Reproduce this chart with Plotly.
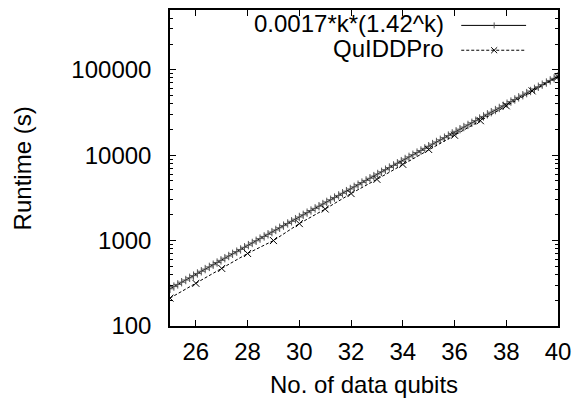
import plotly.graph_objects as go

# ---- data ----
# fitted curve 0.0017*k*(1.42^k), sampled as in the reference (100 samples)
fit_k = [25.00, 25.15, 25.30, 25.45, 25.61, 25.76, 25.91, 26.06, 26.21, 26.36,
         26.52, 26.67, 26.82, 26.97, 27.12, 27.27, 27.42, 27.58, 27.73, 27.88,
         28.03, 28.18, 28.33, 28.48, 28.64, 28.79, 28.94, 29.09, 29.24, 29.39,
         29.55, 29.70, 29.85, 30.00, 30.15, 30.30, 30.45, 30.61, 30.76, 30.91,
         31.06, 31.21, 31.36, 31.52, 31.67, 31.82, 31.97, 32.12, 32.27, 32.42,
         32.58, 32.73, 32.88, 33.03, 33.18, 33.33, 33.48, 33.64, 33.79, 33.94,
         34.09, 34.24, 34.39, 34.55, 34.70, 34.85, 35.00, 35.15, 35.30, 35.45,
         35.61, 35.76, 35.91, 36.06, 36.21, 36.36, 36.52, 36.67, 36.82, 36.97,
         37.12, 37.27, 37.42, 37.58, 37.73, 37.88, 38.03, 38.18, 38.33, 38.48,
         38.64, 38.79, 38.94, 39.09, 39.24, 39.39, 39.55, 39.70, 39.85, 40.00]
fit_runtime = [272.6, 289.3, 306.9, 325.6, 345.4, 366.4, 388.6, 412.2, 437.3, 463.8,
               491.9, 521.7, 553.3, 586.8, 622.3, 659.9, 699.8, 742.1, 786.9, 834.3,
               884.6, 938.0, 994.5, 1054.0, 1118.0, 1185.0, 1256.0, 1332.0, 1412.0, 1496.0,
               1586.0, 1681.0, 1782.0, 1889.0, 2002.0, 2122.0, 2249.0, 2383.0, 2526.0, 2677.0,
               2837.0, 3006.0, 3186.0, 3376.0, 3577.0, 3790.0, 4016.0, 4255.0, 4509.0, 4777.0,
               5061.0, 5362.0, 5681.0, 6019.0, 6376.0, 6755.0, 7156.0, 7580.0, 8030.0, 8506.0,
               9010.0, 9544.0, 10110.0, 10710.0, 11340.0, 12010.0, 12720.0, 13480.0, 14270.0, 15120.0,
               16010.0, 16950.0, 17960.0, 19010.0, 20140.0, 21320.0, 22580.0, 23910.0, 25320.0, 26810.0,
               28390.0, 30060.0, 31830.0, 33710.0, 35690.0, 37790.0, 40010.0, 42360.0, 44850.0, 47480.0,
               50270.0, 53220.0, 56340.0, 59650.0, 63150.0, 66850.0, 70770.0, 74920.0, 79310.0, 83950.0]

quiddpro_k = [25, 26, 27, 28, 29, 30, 31, 32, 33, 34, 35, 36, 37, 38, 39, 40]
quiddpro_runtime = [212, 316, 472, 706, 1000, 1580, 2340, 3550, 5210, 7800,
                    11650, 17100, 25300, 37800, 56500, 83000]

x_ticks = [26, 28, 30, 32, 34, 36, 38, 40]
y_ticks = [100, 1000, 10000, 100000]
y_tick_labels = ["100", "1000", "10000", "100000"]
legend_labels = ["0.0017*k*(1.42^k)", "QuIDDPro"]

FONT = "Liberation Sans, Arial, Helvetica, sans-serif"
W, H = 579, 398
L, R, T, B = 170, 20, 8, 72
PW, PH = W - L - R, H - T - B

def px(x):
    return (x - L) / PW

def py(y):
    return (H - B - y) / PH

fig = go.Figure()
fig.add_trace(go.Scatter(
    x=fit_k, y=fit_runtime, mode="lines+markers",
    line=dict(color="black", width=1),
    marker=dict(symbol="cross-thin", size=6, line=dict(color="#555", width=1)),
    showlegend=False, hoverinfo="skip"))
fig.add_trace(go.Scatter(
    x=quiddpro_k, y=quiddpro_runtime, mode="lines+markers",
    line=dict(color="black", width=1, dash="3px,2px"),
    marker=dict(symbol="x-thin", size=7, line=dict(color="black", width=1)),
    showlegend=False, hoverinfo="skip"))

minor_vals = [m * 10 ** e for e in range(2, 6) for m in range(2, 10)]

fig.update_layout(
    width=W, height=H, margin=dict(l=L, r=R, t=T, b=B, pad=0),
    paper_bgcolor="white", plot_bgcolor="white",
    font=dict(family=FONT, size=24, color="black"),
    xaxis=dict(range=[25, 40], tickvals=x_ticks, ticks="inside", ticklen=6,
               tickwidth=1, tickcolor="black", mirror="ticks", showline=True,
               linecolor="black", linewidth=1.5, showgrid=False, zeroline=False,
               ticklabelstandoff=3, tickfont=dict(size=24)),
    yaxis=dict(type="log", range=[2, 5.69897], tickvals=y_ticks,
               ticktext=y_tick_labels, ticks="inside", ticklen=6, tickwidth=1,
               tickcolor="black", mirror="ticks", showline=True,
               linecolor="black", linewidth=1.5, showgrid=False, zeroline=False,
               ticklabelstandoff=12, tickfont=dict(size=24),
               minor=dict(tickvals=minor_vals, ticks="inside", ticklen=3,
                          tickcolor="black", showgrid=False)),
)

ann = [
    dict(text="No. of data qubits", x=0.5, y=py(385), xref="paper", yref="paper",
         showarrow=False, xanchor="center", yanchor="middle", font=dict(size=24)),
    dict(text="Runtime (s)", x=px(22), y=0.5, xref="paper", yref="paper",
         showarrow=False, textangle=-90, xanchor="center", yanchor="middle",
         font=dict(size=24)),
]
row_y = [22.0, 47.0]
sample_y = [23.5, 48.5]
for lab, ry in zip(legend_labels, row_y):
    ann.append(dict(text=lab, x=px(447), y=py(ry), xref="paper", yref="paper",
                    showarrow=False, xanchor="right", yanchor="middle",
                    font=dict(size=24)))
fig.update_layout(annotations=ann)

shapes = []
x0, x1, xm = px(462), px(527), px(495)
shapes.append(dict(type="line", xref="paper", yref="paper", x0=x0, x1=x1,
                   y0=py(sample_y[0]), y1=py(sample_y[0]),
                   line=dict(color="black", width=1)))
shapes.append(dict(type="line", xref="paper", yref="paper", x0=x0, x1=x1,
                   y0=py(sample_y[1]), y1=py(sample_y[1]),
                   line=dict(color="black", width=1, dash="3px,2px")))
d = 3
shapes.append(dict(type="line", xref="paper", yref="paper", x0=xm, x1=xm,
                   y0=py(sample_y[0] - d), y1=py(sample_y[0] + d),
                   line=dict(color="#555", width=1)))
shapes.append(dict(type="line", xref="paper", yref="paper", x0=px(495 - d), x1=px(495 + d),
                   y0=py(sample_y[1] - d), y1=py(sample_y[1] + d),
                   line=dict(color="black", width=1)))
shapes.append(dict(type="line", xref="paper", yref="paper", x0=px(495 - d), x1=px(495 + d),
                   y0=py(sample_y[1] + d), y1=py(sample_y[1] - d),
                   line=dict(color="black", width=1)))
fig.update_layout(shapes=shapes)

fig.write_html("out.html",
               config={"displayModeBar": False},
               post_script="document.body.style.margin='0';"
                           "document.body.style.overflow='hidden';")
